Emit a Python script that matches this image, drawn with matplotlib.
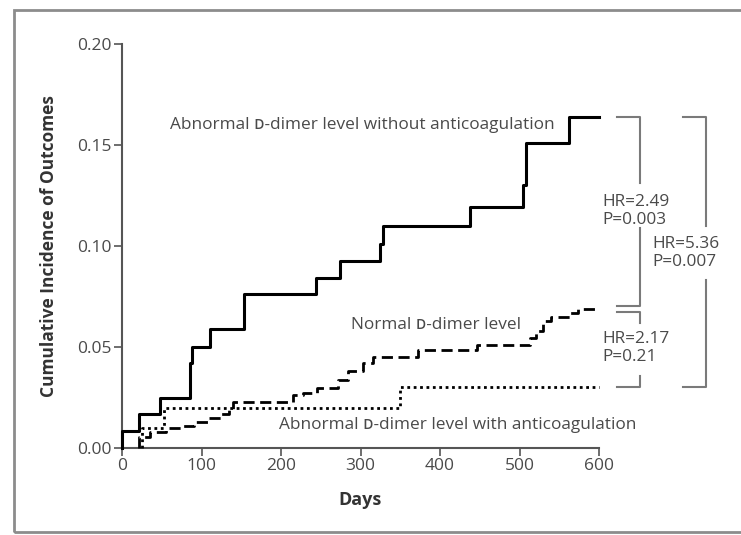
import matplotlib.pyplot as plt
from matplotlib.patches import Rectangle

plt.rcParams['font.family'] = ['Open Sans', 'DejaVu Sans']

# cumulative incidence step curves (days, incidence)
solid_days = [0, 0, 22, 48, 85, 88, 111, 153, 244, 274, 325, 328, 438, 504, 508, 562, 600]
solid_vals = [0, 0.0085, 0.017, 0.025, 0.042, 0.050, 0.059, 0.076, 0.084, 0.0925, 0.101, 0.110,
              0.1195, 0.130, 0.151, 0.164, 0.164]

normal_days = [22, 22, 35, 55, 75, 90, 110, 125, 135, 140, 215, 228, 245, 272, 284, 303, 316,
               372, 446, 513, 521, 530, 540, 564, 574, 600]
normal_vals = [0, 0.0055, 0.008, 0.010, 0.011, 0.013, 0.015, 0.017, 0.019, 0.023, 0.026, 0.027,
               0.0297, 0.0337, 0.038, 0.042, 0.045, 0.0485, 0.051, 0.0545, 0.058, 0.063, 0.065,
               0.067, 0.069, 0.069]

anticoag_days = [25, 25, 53, 350, 600]
anticoag_vals = [0, 0.010, 0.020, 0.030, 0.030]

x_ticks = [0, 100, 200, 300, 400, 500, 600]
y_ticks = [0.00, 0.05, 0.10, 0.15, 0.20]

hr_texts = ['HR=2.49\nP=0.003', 'HR=2.17\nP=0.21', 'HR=5.36\nP=0.007']

txt_col = '#4a4a4a'
brk_col = '#7a7a7a'
fs = 12.4

fig = plt.figure(figsize=(7.41, 5.35), dpi=100)
ax = fig.add_axes([122 / 741, 1 - 448 / 535, (599 - 122) / 741, (448 - 44) / 535])

ax.step(solid_days, solid_vals, where='post', color='black', lw=2.2, clip_on=False, zorder=4)
ax.step(normal_days, normal_vals, where='post', color='black', lw=2.0, clip_on=False,
        dashes=(4, 2), zorder=3)
ax.step(anticoag_days, anticoag_vals, where='post', color='black', lw=2.0, clip_on=False,
        dashes=(1, 1.3), zorder=3)

ax.set_xlim(0, 600)
ax.set_ylim(0, 0.20)
ax.set_xticks(x_ticks)
ax.set_xticklabels([str(t) for t in x_ticks])
ax.set_yticks(y_ticks)
ax.set_yticklabels(['%.2f' % t for t in y_ticks])
for s in ['top', 'right']:
    ax.spines[s].set_visible(False)
for s in ['left', 'bottom']:
    ax.spines[s].set_color('#555555')
    ax.spines[s].set_linewidth(1.5)
ax.tick_params(direction='out', length=5.5, width=1.2, color='#555555', labelcolor=txt_col,
               labelsize=12.5, pad=2)
ax.set_xlabel('Days', fontsize=13, fontweight='bold', color='#333333', labelpad=12)
ax.set_ylabel('Cumulative Incidence of Outcomes', fontsize=12.5, fontweight='bold',
              color='#333333', labelpad=14)

# curve labels
ax.text(302, 0.160, 'Abnormal \u1d05-dimer level without anticoagulation',
        ha='center', va='center', fontsize=fs, color=txt_col)
ax.text(395, 0.061, 'Normal \u1d05-dimer level', ha='center', va='center', fontsize=fs,
        color=txt_col)
ax.text(422, 0.0114, 'Abnormal \u1d05-dimer level with anticoagulation', ha='center',
        va='center', fontsize=fs, color=txt_col)

# brackets comparing the final incidences
top = solid_vals[-1]
mid = normal_vals[-1]
low = anticoag_vals[-1]


def bracket(x0, x1, y_top, y_bot, gap_top, gap_bot):
    kw = dict(color=brk_col, lw=1.5, clip_on=False)
    ax.plot([x0, x1, x1], [y_top, y_top, gap_top], **kw)
    ax.plot([x1, x1, x0], [gap_bot, y_bot, y_bot], **kw)


bracket(623, 652, top, mid + 0.0015, 0.131, 0.109)
bracket(623, 652, mid - 0.0015, low, 0.0618, 0.0355)
bracket(706, 734, top, low, 0.110, 0.083)

ax.text(604, 0.1173, hr_texts[0], ha='left', va='center', fontsize=fs, color=txt_col,
        linespacing=1.2, clip_on=False)
ax.text(604, 0.0495, hr_texts[1], ha='left', va='center', fontsize=fs, color=txt_col,
        linespacing=1.2, clip_on=False)
ax.text(667, 0.0965, hr_texts[2], ha='left', va='center', fontsize=fs, color=txt_col,
        linespacing=1.2, clip_on=False)

# outer frame
fig.patches.append(Rectangle((14 / 741, 1 - 532 / 535), 0.99, (532 - 10) / 535,
                             transform=fig.transFigure, fill=False, edgecolor='#8c8c8c',
                             lw=2.0))

fig.savefig('out.png', dpi=100)
